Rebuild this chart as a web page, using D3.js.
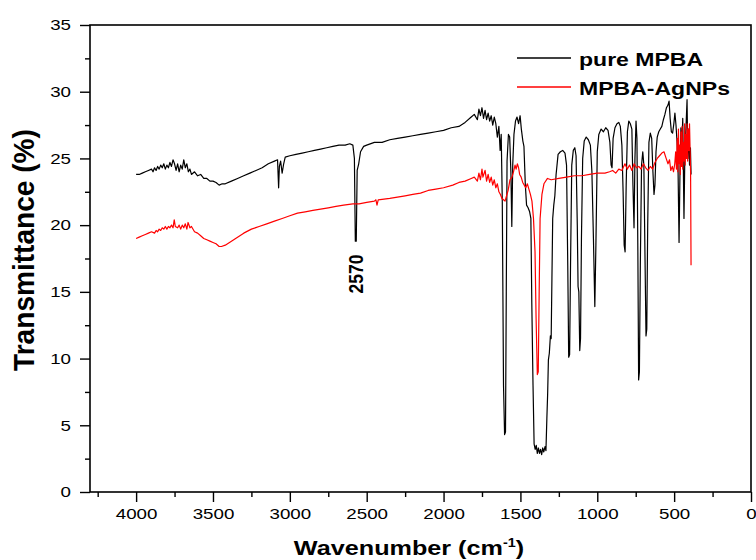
<!DOCTYPE html>
<html>
<head>
<meta charset="utf-8">
<script src="https://cdn.jsdelivr.net/npm/d3@7"></script>
<style>
  body { margin: 0; background: #fff; }
  svg { display: block; font-family: "Liberation Sans", Arial, sans-serif; }
</style>
</head>
<body>
<div id="chart"></div>
<script>
// FTIR spectra, [wavenumber (cm-1), transmittance (%)]
const pureMPBA = [
  [4000,23.8],[3980,23.8],[3960,23.9],[3940,24.0],[3920,24.1],[3900,24.2],[3890,24.0],[3880,24.3],
  [3870,24.1],[3860,24.4],[3850,24.2],[3840,24.5],[3830,24.3],[3820,24.6],[3810,24.2],[3800,24.5],
  [3790,24.3],[3780,24.7],[3770,24.4],[3760,24.9],[3750,24.6],[3740,24.1],[3730,24.6],[3720,24.0],
  [3710,24.5],[3700,24.2],[3690,24.9],[3680,24.3],[3670,24.6],[3660,24.0],[3650,24.2],[3640,23.8],
  [3620,24.0],[3600,23.7],[3580,23.8],[3560,23.5],[3540,23.5],[3520,23.3],[3500,23.3],[3480,23.2],
  [3460,23.0],[3440,23.1],[3420,23.1],[3380,23.3],[3340,23.5],[3300,23.7],[3260,23.9],[3220,24.1],
  [3180,24.3],[3140,24.6],[3100,24.8],[3080,24.9],[3073,22.8],[3068,24.4],[3060,24.8],[3050,23.9],
  [3040,24.6],[3030,25.1],[3000,25.2],[2960,25.3],[2920,25.4],[2880,25.5],[2840,25.6],[2800,25.7],
  [2760,25.8],[2720,25.9],[2680,26.0],[2640,26.0],[2610,26.1],[2590,26.0],[2580,25.0],[2574,18.8],
  [2568,18.8],[2562,24.1],[2552,24.6],[2540,25.5],[2520,25.9],[2500,26.0],[2450,26.2],[2400,26.2],
  [2350,26.4],[2300,26.5],[2250,26.6],[2200,26.7],[2150,26.8],[2100,26.9],[2050,27.0],[2000,27.1],
  [1950,27.3],[1900,27.4],[1860,27.7],[1820,28.1],[1800,28.3],[1780,27.9],[1770,28.7],[1760,28.2],
  [1750,28.8],[1740,28.0],[1730,28.6],[1720,27.9],[1710,28.4],[1700,27.8],[1690,28.2],[1680,27.5],
  [1670,28.1],[1660,27.6],[1650,26.6],[1640,27.4],[1632,25.6],[1625,26.8],[1618,21.8],[1610,8.0],
  [1603,4.3],[1597,4.5],[1592,15.0],[1587,24.8],[1578,26.8],[1570,26.6],[1562,24.0],[1556,19.9],
  [1550,24.5],[1542,26.8],[1532,27.8],[1522,28.1],[1512,27.6],[1502,28.2],[1494,27.2],[1484,26.3],
  [1477,25.9],[1468,23.0],[1460,21.5],[1450,21.3],[1440,21.0],[1432,20.5],[1426,14.2],[1418,8.0],
  [1411,3.6],[1404,3.2],[1397,3.5],[1390,2.9],[1383,3.3],[1376,2.9],[1369,3.2],[1362,2.8],
  [1355,3.3],[1348,3.0],[1340,3.4],[1334,3.1],[1328,5.5],[1323,7.3],[1318,9.9],[1312,10.4],
  [1305,11.7],[1300,11.5],[1295,16.0],[1290,20.5],[1283,21.5],[1276,22.2],[1268,23.8],[1255,25.3],
  [1240,25.5],[1225,25.6],[1210,25.4],[1200,24.5],[1192,17.0],[1186,10.1],[1180,10.3],[1174,17.0],
  [1166,24.5],[1156,25.6],[1146,25.8],[1138,25.2],[1130,20.0],[1125,15.4],[1120,15.0],[1114,10.6],
  [1109,11.5],[1103,19.0],[1095,25.0],[1085,26.3],[1072,26.6],[1058,26.4],[1045,26.0],[1035,24.0],
  [1025,19.0],[1016,13.9],[1009,18.5],[1000,25.5],[990,26.8],[975,27.2],[960,27.0],[945,27.3],
  [930,27.1],[918,26.2],[910,24.5],[904,24.3],[897,26.5],[885,27.3],[872,27.6],[860,27.7],
  [850,27.4],[840,26.0],[832,22.5],[825,18.5],[819,18.0],[812,23.0],[804,27.0],[795,27.8],
  [785,27.6],[775,27.2],[768,23.0],[761,19.8],[755,25.0],[748,27.8],[742,26.5],[736,18.0],
  [731,8.4],[726,9.0],[720,17.0],[712,24.5],[704,25.5],[697,24.5],[690,18.0],[683,11.7],
  [678,12.2],[672,20.0],[664,26.2],[655,26.9],[646,26.5],[638,24.0],[631,22.3],[625,23.0],
  [618,25.5],[610,26.6],[600,27.0],[590,27.2],[580,27.4],[570,27.9],[560,28.3],[550,28.8],
  [540,29.0],[533,29.3],[526,28.0],[518,27.0],[510,26.9],[502,27.6],[495,28.4],[488,27.5],
  [481,26.2],[475,24.5],[468,18.7],[462,24.0],[456,27.3],[450,26.0],[444,28.0],[436,20.5],
  [430,25.5],[424,27.0],[416,29.4],[411,25.0],[406,27.2],[400,24.5],[394,25.8],[390,23.8]
]

const mpbaAgNPs = [
  [4000,19.0],[3980,19.1],[3960,19.2],[3940,19.3],[3920,19.4],[3900,19.5],[3880,19.4],[3870,19.6],
  [3860,19.5],[3850,19.7],[3840,19.6],[3830,19.8],[3820,19.7],[3810,19.9],[3800,19.7],[3790,19.9],
  [3780,19.8],[3770,20.0],[3760,19.8],[3752,20.4],[3745,19.9],[3730,19.8],[3720,20.0],[3710,19.7],
  [3700,20.0],[3690,19.8],[3680,20.1],[3670,19.7],[3662,20.2],[3650,19.8],[3640,19.9],[3620,19.5],
  [3600,19.4],[3580,19.2],[3560,19.0],[3540,18.9],[3520,18.8],[3500,18.7],[3480,18.6],[3460,18.4],
  [3445,18.4],[3420,18.5],[3380,18.8],[3340,19.1],[3300,19.4],[3250,19.7],[3200,19.9],[3150,20.1],
  [3100,20.3],[3050,20.5],[3000,20.7],[2950,20.9],[2900,21.0],[2850,21.1],[2800,21.2],[2750,21.3],
  [2700,21.4],[2650,21.5],[2590,21.6],[2550,21.6],[2500,21.7],[2450,21.8],[2440,21.9],[2433,21.5],
  [2425,21.9],[2350,22.0],[2300,22.1],[2250,22.2],[2200,22.3],[2150,22.4],[2100,22.6],[2050,22.7],
  [2000,22.8],[1940,23.0],[1900,23.2],[1860,23.3],[1820,23.5],[1800,23.6],[1780,23.3],[1770,23.9],
  [1760,23.4],[1750,24.2],[1744,23.6],[1730,24.1],[1720,23.3],[1710,23.8],[1700,23.2],[1690,23.6],
  [1680,23.0],[1670,23.4],[1660,22.8],[1650,23.1],[1640,22.5],[1630,22.3],[1620,22.0],[1610,21.9],
  [1600,21.8],[1590,22.2],[1580,22.6],[1568,23.4],[1555,23.6],[1545,24.0],[1535,24.5],[1528,24.2],
  [1520,24.6],[1512,24.3],[1505,23.8],[1495,23.6],[1485,23.2],[1475,23.0],[1465,22.8],[1455,23.1],
  [1445,22.7],[1435,22.3],[1425,21.8],[1415,20.5],[1405,18.0],[1398,13.0],[1390,8.8],[1384,9.0],
  [1378,15.0],[1372,20.5],[1360,22.3],[1347,23.1],[1324,23.5],[1300,23.4],[1250,23.5],[1200,23.6],
  [1150,23.7],[1100,23.7],[1050,23.8],[1000,23.9],[950,23.9],[920,24.0],[900,24.1],[880,23.9],
  [860,24.2],[840,24.1],[820,24.6],[805,24.2],[790,24.5],[775,24.1],[760,24.6],[745,24.3],
  [730,24.4],[715,24.2],[700,24.6],[685,24.3],[670,24.1],[655,24.4],[640,24.2],[625,24.7],
  [610,25.0],[595,25.2],[580,25.4],[566,25.5],[552,25.0],[540,24.6],[530,24.9],[522,24.1],
  [512,24.4],[504,24.0],[496,24.6],[490,25.5],[485,24.2],[480,26.5],[476,24.0],[472,27.2],
  [468,24.6],[464,26.0],[460,23.8],[456,27.0],[452,24.4],[448,27.4],[444,24.2],[440,26.2],
  [436,24.8],[432,27.6],[428,24.5],[424,26.8],[420,25.0],[416,27.6],[412,24.8],[408,27.2],
  [404,25.6],[400,27.6],[396,25.5],[393,24.0],[390,17.0]
]

const xTicks = [4000, 3500, 3000, 2500, 2000, 1500, 1000, 500, 0]
const xMinor = [4250, 3750, 3250, 2750, 2250, 1750, 1250, 750, 250]
const yTicks = [0, 5, 10, 15, 20, 25, 30, 35]
const yMinor = [2.5, 7.5, 12.5, 17.5, 22.5, 27.5, 32.5]
const seriesNames = ["pure MPBA", "MPBA-AgNPs"]
const seriesColors = ["#000000", "#ff0000"]
const peakLabel = {wave: 2570, text: "2570"}

// dimensions
const width = 756, height = 560
const plot = {left: 90, right: 751, top: 25, bottom: 492}
const stretch = 1.25  // the reference text is a little wide

const x = d3.scaleLinear().domain([4300, 0]).range([plot.left, plot.right])
const y = d3.scaleLinear().domain([0, 35]).range([plot.bottom, plot.top])

const svg = d3.select("#chart").append("svg")
    .attr("width", width)
    .attr("height", height)

// axes
const xAxis = svg.append("g")
    .attr("transform", `translate(0, ${plot.bottom})`)
    .call(d3.axisBottom(x).tickValues(xTicks).tickSize(10).tickPadding(6).tickFormat(d3.format("d")))
xAxis.append("g")
    .call(d3.axisBottom(x).tickValues(xMinor).tickSize(5).tickFormat(""))

const yAxis = svg.append("g")
    .attr("transform", `translate(${plot.left}, 0)`)
    .call(d3.axisLeft(y).tickValues(yTicks).tickSize(10).tickPadding(9))
yAxis.append("g")
    .call(d3.axisLeft(y).tickValues(yMinor).tickSize(5).tickFormat(""))

svg.selectAll(".domain").remove()
svg.selectAll(".tick line").attr("stroke", "#000").attr("stroke-width", 1.4)

xAxis.selectAll(".tick text")
    .attr("fill", "#000")
    .style("font-size", "15px")
    .attr("transform", `scale(${stretch},1)`)
yAxis.selectAll(".tick text")
    .attr("fill", "#000")
    .style("font-size", "15px")
    .attr("x", 0)
    .attr("transform", `translate(-19,0) scale(${stretch},1)`)

// spectra
const line = d3.line()
    .x(d => x(d[0]))
    .y(d => y(d[1]))

svg.append("path")
    .datum(pureMPBA)
    .attr("fill", "none")
    .attr("stroke", seriesColors[0])
    .attr("stroke-width", 1.2)
    .attr("stroke-linejoin", "round")
    .attr("d", line)

svg.append("path")
    .datum(mpbaAgNPs)
    .attr("fill", "none")
    .attr("stroke", seriesColors[1])
    .attr("stroke-width", 1.2)
    .attr("stroke-linejoin", "round")
    .attr("d", line)

// frame
svg.append("rect")
    .attr("x", plot.left)
    .attr("y", plot.top)
    .attr("width", plot.right - plot.left)
    .attr("height", plot.bottom - plot.top)
    .attr("fill", "none")
    .attr("stroke", "#000")
    .attr("stroke-width", 1.6)

// axis titles
const xTitle = svg.append("text")
    .attr("transform", `translate(409, 555) scale(1.2,1)`)
    .attr("text-anchor", "middle")
    .attr("font-weight", "bold")
    .style("font-size", "21px")
xTitle.append("tspan").text("Wavenumber (cm")
xTitle.append("tspan").attr("dy", -8).style("font-size", "12px").text("-1")
xTitle.append("tspan").attr("dy", 8).text(")")

svg.append("text")
    .attr("transform", "translate(34, 250) rotate(-90) scale(1.17,1.2)")
    .attr("text-anchor", "middle")
    .attr("font-weight", "bold")
    .style("font-size", "24px")
    .text("Transmittance (%)")

// peak annotation
svg.append("text")
    .attr("transform", `translate(${x(peakLabel.wave) + 7}, 274) rotate(-90) scale(1,1.12)`)
    .attr("text-anchor", "middle")
    .attr("font-weight", "bold")
    .style("font-size", "17.5px")
    .text(peakLabel.text)

// legend
const legend = svg.append("g")
    .selectAll("g")
    .data(seriesNames)
    .join("g")
    .attr("transform", (d, i) => `translate(517, ${58 + i * 29})`)

legend.append("line")
    .attr("x1", 0).attr("x2", 54)
    .attr("stroke", (d, i) => seriesColors[i])
    .attr("stroke-width", 1.3)

legend.append("text")
    .attr("transform", `translate(62, 7.5) scale(${stretch * 0.97},1)`)
    .attr("font-weight", "bold")
    .style("font-size", "19px")
    .text(d => d)
</script>
</body>
</html>
